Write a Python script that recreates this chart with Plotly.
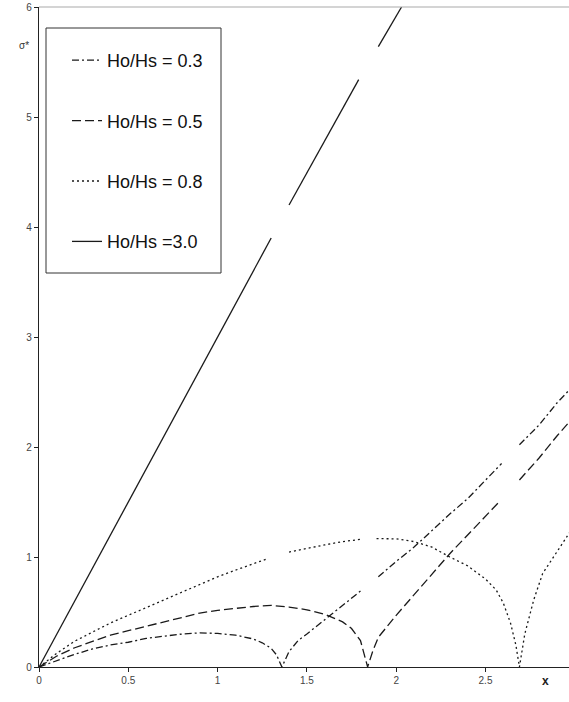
import plotly.graph_objects as go

# ---- data ----
x_03 = [0, 0.1, 0.2, 0.3, 0.4, 0.5, 0.6, 0.7, 0.8, 0.9, 1.0, 1.1, 1.2, 1.25, 1.3, 1.33, 1.36,
        1.38, 1.4, 1.45, 1.5, 1.6, 1.7, 1.8, None, 1.9, 2.0, 2.1, 2.2, 2.3, 2.4, 2.5, 2.59, None,
        2.69, 2.8, 2.9, 2.97]
y_03 = [0, 0.06, 0.115, 0.165, 0.20, 0.225, 0.26, 0.28, 0.30, 0.31, 0.305, 0.29, 0.255, 0.22, 0.17, 0.11, 0.0,
        0.07, 0.14, 0.24, 0.30, 0.43, 0.56, 0.69, None, 0.82, 0.96, 1.09, 1.24, 1.39, 1.53, 1.70, 1.85, None,
        2.02, 2.20, 2.40, 2.52]

x_05 = [0, 0.1, 0.2, 0.3, 0.4, 0.5, 0.6, 0.7, 0.8, 0.9, 1.0, 1.1, 1.2, 1.3, 1.4, 1.5, 1.6, 1.7, 1.75, 1.8,
        1.84, 1.87, 1.9, 2.0, 2.1, 2.2, 2.3, 2.4, 2.5, 2.57, None, 2.69, 2.8, 2.9, 2.97]
y_05 = [0, 0.10, 0.175, 0.23, 0.29, 0.33, 0.37, 0.41, 0.45, 0.49, 0.515, 0.535, 0.55, 0.56, 0.545, 0.52, 0.48, 0.41, 0.35, 0.24,
        0.0, 0.15, 0.27, 0.47, 0.66, 0.85, 1.03, 1.20, 1.37, 1.49, None, 1.70, 1.90, 2.10, 2.23]

x_08 = [0, 0.1, 0.2, 0.3, 0.4, 0.5, 0.6, 0.7, 0.8, 0.9, 1.0, 1.1, 1.2, 1.28, None, 1.40, 1.5, 1.6, 1.7, 1.8,
        None, 1.89, 2.0, 2.1, 2.2, 2.3, 2.4, 2.5, 2.56, 2.6, 2.64, 2.67, 2.69, 2.72, 2.77, 2.82, 2.9, 2.97]
y_08 = [0, 0.125, 0.235, 0.315, 0.40, 0.47, 0.54, 0.61, 0.68, 0.75, 0.82, 0.88, 0.94, 0.985, None, 1.045, 1.08, 1.11, 1.14, 1.16,
        None, 1.167, 1.165, 1.14, 1.09, 1.00, 0.92, 0.80, 0.70, 0.58, 0.40, 0.20, 0.0, 0.30, 0.61, 0.85, 1.05, 1.22]

x_30 = [0, 0.5, 1.0, 1.3, None, 1.4, 1.6, 1.79, None, 1.9, 2.03]
y_30 = [0, 1.50, 3.0, 3.9, None, 4.2, 4.78, 5.34, None, 5.64, 6.0]

names = ["Ho/Hs = 0.3", "Ho/Hs = 0.5", "Ho/Hs = 0.8", "Ho/Hs =3.0"]
x_ticks = [0, 0.5, 1, 1.5, 2, 2.5]
y_ticks = [0, 1, 2, 3, 4, 5, 6]

FONT = "Liberation Sans, Arial, sans-serif"
LC = "#1a1a1a"

fig = go.Figure()
series = [
    (x_03, y_03, names[0], "7px,3px,2px,3px"),
    (x_05, y_05, names[1], "9px,4px"),
    (x_08, y_08, names[2], "2px,3px"),
    (x_30, y_30, names[3], "solid"),
]
for i, (xs, ys, nm, dash) in enumerate(series):
    fig.add_trace(go.Scatter(
        x=xs, y=ys, name=nm, mode="lines", connectgaps=False,
        legendgroup=f"g{i}",
        line=dict(color=LC, width=1.3, dash=dash),
    ))

W, H = 569, 702
ml, mr, mt, mb = 39, 0, 7, 35
pw = W - ml - mr
ph = H - mt - mb
px_per_x = 178.6
xmax = pw / px_per_x

def px(xpix):
    return (xpix - ml) / pw

def py(ypix):
    return (H - mb - ypix) / ph

fig.update_layout(
    width=W, height=H,
    margin=dict(l=ml, r=mr, t=mt, b=mb, pad=0),
    paper_bgcolor="white", plot_bgcolor="white",
    font=dict(family=FONT, color="#333"),
    showlegend=True,
    legend=dict(
        x=px(67), y=py(42), xanchor="left", yanchor="top",
        bgcolor="rgba(0,0,0,0)", borderwidth=0,
        font=dict(family=FONT, size=18, color="#111"),
        tracegroupgap=34, traceorder="grouped",
        itemwidth=30,
    ),
    xaxis=dict(
        range=[0, xmax], tickvals=x_ticks, showgrid=False, zeroline=False,
        showline=True, linecolor="#222", linewidth=1.3,
        ticks="outside", ticklen=4, tickcolor="#222",
        tickfont=dict(size=10, color="#444", family=FONT),
    ),
    yaxis=dict(
        range=[0, 6], tickvals=y_ticks, showgrid=False, zeroline=False,
        showline=True, linecolor="#222", linewidth=1.3,
        ticks="outside", ticklen=4, tickcolor="#222",
        tickfont=dict(size=10, color="#444", family=FONT),
    ),
    shapes=[
        dict(type="line", xref="paper", yref="paper", x0=0, x1=1, y0=1, y1=1,
             line=dict(color="#aaaaaa", width=1.2)),
        dict(type="rect", xref="paper", yref="paper",
             x0=px(46), x1=px(221), y0=py(273), y1=py(28),
             line=dict(color="#333", width=1), fillcolor="rgba(0,0,0,0)"),
    ],
    annotations=[
        dict(text="σ*", xref="paper", yref="paper", x=px(17), y=py(38),
             showarrow=False, font=dict(size=10, color="#333", family=FONT)),
        dict(text="<b>x</b>", xref="paper", yref="paper", x=px(551), y=py(690),
             showarrow=False, font=dict(size=12, color="#222", family=FONT)),
    ],
)

fig.write_html("out.html")
